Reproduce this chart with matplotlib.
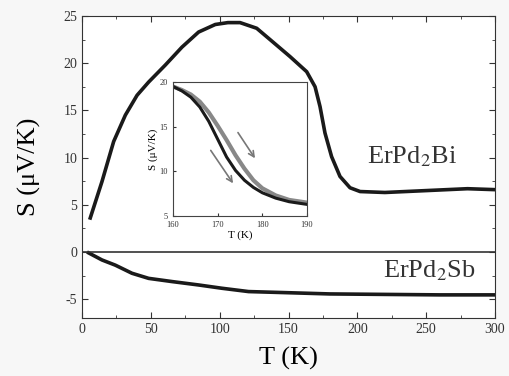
import numpy as np
import matplotlib.pyplot as plt
from matplotlib.ticker import MultipleLocator

plt.rcParams['font.family'] = ['Liberation Serif', 'DejaVu Serif']
plt.rcParams['mathtext.fontset'] = 'stix'
plt.rcParams['axes.unicode_minus'] = False

# ErPd2Bi thermopower
T_bi = [6.0, 14.5, 23.0, 31.5, 40.0, 48.4, 60.5, 72.6, 84.7, 96.8, 106, 114.8, 126.9,
        136.6, 151.1, 163.2, 169.3, 172.9, 176.5, 181.3, 187.4, 194.7, 202, 220, 250, 280, 300]
S_bi = [3.6, 7.45, 11.7, 14.5, 16.6, 18.0, 19.8, 21.7, 23.3, 24.1, 24.3, 24.3, 23.7,
        22.5, 20.7, 19.1, 17.5, 15.4, 12.6, 10.1, 8.0, 6.8, 6.4, 6.3, 6.5, 6.7, 6.6]

# ErPd2Sb thermopower
T_sb = [4.8, 14.5, 24.2, 36.3, 48.4, 65.4, 84.7, 101.7, 121, 145, 180, 220, 260, 300]
S_sb = [-0.1, -0.85, -1.4, -2.26, -2.8, -3.14, -3.5, -3.85, -4.2, -4.3, -4.45, -4.5,
        -4.55, -4.55]

# inset: transition region, two sweeps
T_in = [160, 162, 164, 166, 168, 170, 172, 174, 176, 178, 180, 183, 186, 190]
S_cool = [19.5, 19.0, 18.3, 17.2, 15.6, 13.6, 11.6, 10.1, 9.0, 8.2, 7.6, 7.0, 6.6, 6.3]
S_warm = [19.5, 19.1, 18.6, 17.8, 16.6, 15.1, 13.5, 11.8, 10.3, 9.0, 8.1, 7.3, 6.8, 6.5]

fig = plt.figure(figsize=(5.09, 3.76), dpi=100)
ax = fig.add_axes([82 / 509, 1 - 318 / 376, 413 / 509, 302 / 376])

ax.plot(T_bi, S_bi, color='#1a1a1a', lw=2.6, solid_joinstyle='round')
ax.plot(T_sb, S_sb, color='#1a1a1a', lw=2.6, solid_joinstyle='round')
ax.axhline(0, color='#333333', lw=1.2)

ax.set_xlim(0, 300)
ax.set_ylim(-7, 25)
ax.xaxis.set_major_locator(MultipleLocator(50))
ax.xaxis.set_minor_locator(MultipleLocator(25))
ax.yaxis.set_major_locator(MultipleLocator(5))
ax.yaxis.set_minor_locator(MultipleLocator(2.5))
ax.tick_params(which='both', direction='in', top=True, right=True, labelsize=10, colors='#333333')
ax.tick_params(which='major', length=4)
ax.tick_params(which='minor', length=2)
for s in ax.spines.values():
    s.set_color('#333333')

ax.set_xlabel('T (K)', fontsize=19, labelpad=8)
ax.set_ylabel('S (μV/K)', fontsize=19, labelpad=16)

ax.text(240, 10.1, r'ErPd$_2$Bi', fontsize=19, ha='center', va='center', color='#333333')
ax.text(252, -2.0, r'ErPd$_2$Sb', fontsize=19, ha='center', va='center', color='#333333')

# inset
ins = fig.add_axes([173 / 509, 1 - 216 / 376, 134 / 509, 134 / 376])
ins.plot(T_in, S_warm, color='#888888', lw=3.0)
ins.plot(T_in, S_cool, color='#1a1a1a', lw=2.2)
ins.annotate('', xy=(173.8, 8.4), xytext=(168.1, 12.6),
             arrowprops=dict(arrowstyle='->', color='#777777', lw=1.2))
ins.annotate('', xy=(178.7, 11.2), xytext=(174.2, 14.6),
             arrowprops=dict(arrowstyle='->', color='#777777', lw=1.2))
ins.set_xlim(160, 190)
ins.set_ylim(5, 20)
ins.set_xticks([160, 170, 180, 190])
ins.set_yticks([5, 10, 15, 20])
ins.tick_params(direction='in', labelsize=6, length=2, colors='#333333')
for s in ins.spines.values():
    s.set_color('#444444')
ins.set_xlabel('T (K)', fontsize=8, labelpad=1)
ins.set_ylabel('S (μV/K)', fontsize=8, labelpad=1)

fig.savefig('out.png', dpi=100, facecolor='#f7f7f7')
